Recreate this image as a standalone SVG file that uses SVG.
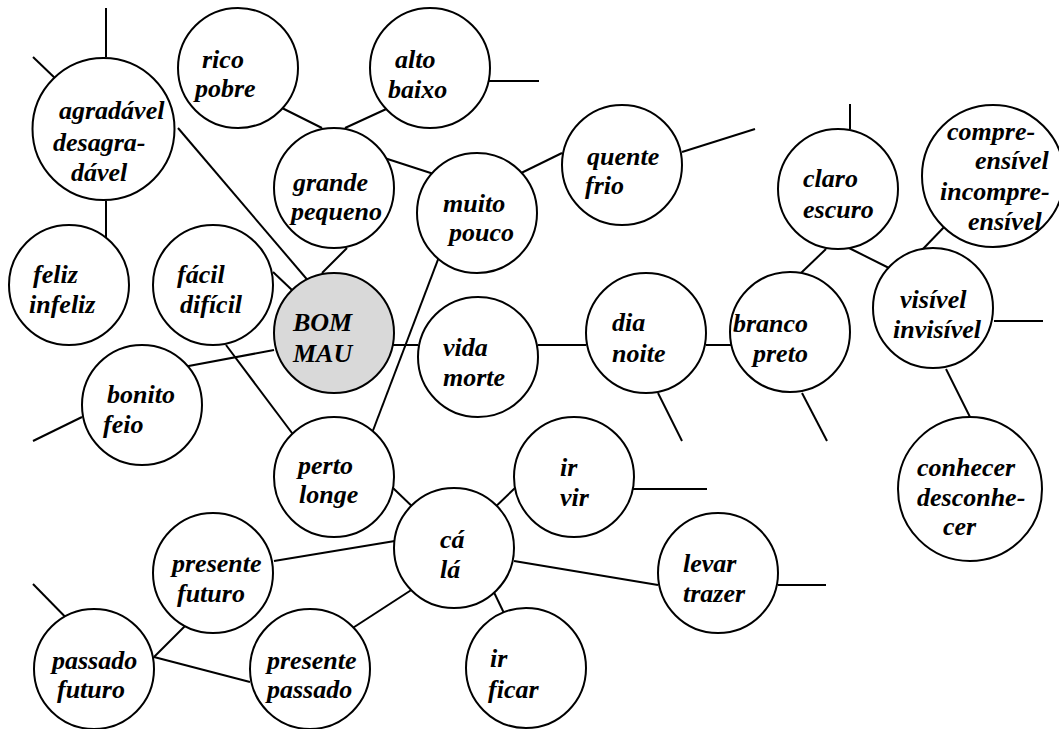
<svg xmlns="http://www.w3.org/2000/svg" width="1059" height="729" viewBox="0 0 1059 729">
<style>
.n{fill:#fff;stroke:#000;stroke-width:2}
.c{fill:#d9d9d9;stroke:#000;stroke-width:2}
.l{stroke:#000;stroke-width:2;fill:none}
text{font-family:'Liberation Serif','Times New Roman','DejaVu Serif',serif;font-weight:700;font-style:italic;font-size:26px;fill:#000}
</style>
<rect width="1059" height="729" fill="#fff"/>
<g id="connectors">
<line class="l" x1="106" y1="8" x2="106" y2="57"/>
<line class="l" x1="33" y1="57" x2="58" y2="81"/>
<line class="l" x1="106" y1="201" x2="106" y2="249"/>
<line class="l" x1="178" y1="128" x2="322" y2="297"/>
<line class="l" x1="274" y1="104" x2="322" y2="128"/>
<line class="l" x1="395" y1="105" x2="345" y2="128"/>
<line class="l" x1="465" y1="81" x2="539" y2="81"/>
<line class="l" x1="369" y1="153" x2="443" y2="177"/>
<line class="l" x1="513" y1="177" x2="562" y2="153"/>
<line class="l" x1="682" y1="152" x2="755" y2="129"/>
<line class="l" x1="850" y1="104" x2="850" y2="129"/>
<line class="l" x1="849" y1="248" x2="899" y2="273"/>
<line class="l" x1="826" y1="249" x2="801" y2="273"/>
<line class="l" x1="947" y1="224" x2="922" y2="250"/>
<line class="l" x1="994" y1="321" x2="1043" y2="321"/>
<line class="l" x1="946" y1="369" x2="970" y2="417"/>
<line class="l" x1="802" y1="393" x2="827" y2="441"/>
<line class="l" x1="706" y1="345" x2="732" y2="345"/>
<line class="l" x1="658" y1="393" x2="682" y2="441"/>
<line class="l" x1="538" y1="345" x2="586" y2="345"/>
<line class="l" x1="393" y1="345" x2="418" y2="345"/>
<line class="l" x1="442" y1="249" x2="369" y2="441"/>
<line class="l" x1="347" y1="248" x2="322" y2="273"/>
<line class="l" x1="273" y1="272" x2="292" y2="290"/>
<line class="l" x1="274" y1="350" x2="178" y2="368"/>
<line class="l" x1="226" y1="345" x2="298" y2="441"/>
<line class="l" x1="82" y1="417" x2="33" y2="441"/>
<line class="l" x1="393" y1="488" x2="419" y2="513"/>
<line class="l" x1="515" y1="488" x2="489" y2="513"/>
<line class="l" x1="633" y1="489" x2="707" y2="489"/>
<line class="l" x1="514" y1="561" x2="658" y2="585"/>
<line class="l" x1="778" y1="585" x2="826" y2="585"/>
<line class="l" x1="490" y1="584" x2="514" y2="634"/>
<line class="l" x1="419" y1="537" x2="274" y2="561"/>
<line class="l" x1="419" y1="585" x2="345" y2="633"/>
<line class="l" x1="154" y1="657" x2="202" y2="609"/>
<line class="l" x1="154" y1="657" x2="250" y2="682"/>
<line class="l" x1="33" y1="584" x2="82" y2="634"/>
</g>
<g id="agradavel"><circle class="n" cx="103.5" cy="129" r="71"/><text x="59" y="119">agradável</text><text x="53" y="151">desagra-</text><text x="71" y="181">dável</text></g>
<g id="rico"><circle class="n" cx="238" cy="68" r="60"/><text x="202" y="68">rico</text><text x="195" y="97">pobre</text></g>
<g id="alto"><circle class="n" cx="430" cy="68" r="60"/><text x="395" y="68">alto</text><text x="388" y="98">baixo</text></g>
<g id="grande"><circle class="n" cx="334" cy="188" r="60"/><text x="293" y="191">grande</text><text x="291" y="220">pequeno</text></g>
<g id="muito"><circle class="n" cx="477" cy="213" r="60"/><text x="443" y="212">muito</text><text x="449" y="241">pouco</text></g>
<g id="quente"><circle class="n" cx="622" cy="165" r="60"/><text x="587" y="165">quente</text><text x="585" y="194">frio</text></g>
<g id="claro"><circle class="n" cx="838" cy="189" r="60"/><text x="803" y="187">claro</text><text x="803" y="218">escuro</text></g>
<g id="compreensivel"><circle class="n" cx="993" cy="176" r="71"/><text x="947" y="140">compre-</text><text x="975" y="169">ensível</text><text x="940" y="200">incompre-</text><text x="968" y="230">ensível</text></g>
<g id="visivel"><circle class="n" cx="933" cy="308" r="60"/><text x="900" y="308">visível</text><text x="893" y="338">invisível</text></g>
<g id="branco"><circle class="n" cx="790" cy="332" r="60"/><text x="733" y="332">branco</text><text x="753" y="362">preto</text></g>
<g id="conhecer"><circle class="n" cx="970" cy="489" r="72"/><text x="917" y="476">conhecer</text><text x="917" y="506">desconhe-</text><text x="943" y="535">cer</text></g>
<g id="dia"><circle class="n" cx="646" cy="333" r="60"/><text x="612" y="331">dia</text><text x="612" y="362">noite</text></g>
<g id="vida"><circle class="n" cx="478" cy="357" r="60"/><text x="443" y="356">vida</text><text x="443" y="386">morte</text></g>
<g id="bom"><circle class="c" cx="334" cy="333" r="60"/><text x="293" y="331">BOM</text><text x="293" y="362">MAU</text></g>
<g id="facil"><circle class="n" cx="213" cy="285" r="60"/><text x="177" y="283">fácil</text><text x="180" y="313">difícil</text></g>
<g id="feliz"><circle class="n" cx="69" cy="285" r="60"/><text x="33" y="283">feliz</text><text x="29" y="313">infeliz</text></g>
<g id="bonito"><circle class="n" cx="142" cy="405" r="60"/><text x="107" y="403">bonito</text><text x="103" y="433">feio</text></g>
<g id="perto"><circle class="n" cx="334" cy="477" r="60"/><text x="298" y="474">perto</text><text x="299" y="503">longe</text></g>
<g id="ca"><circle class="n" cx="454" cy="548" r="60"/><text x="440" y="548">cá</text><text x="440" y="578">lá</text></g>
<g id="irvir"><circle class="n" cx="574" cy="477" r="60"/><text x="560" y="476">ir</text><text x="560" y="506">vir</text></g>
<g id="levar"><circle class="n" cx="718" cy="573" r="60"/><text x="683" y="572">levar</text><text x="683" y="602">trazer</text></g>
<g id="irficar"><circle class="n" cx="526" cy="668" r="60"/><text x="490" y="667">ir</text><text x="488" y="698">ficar</text></g>
<g id="presentefuturo"><circle class="n" cx="213" cy="573" r="60"/><text x="172" y="572">presente</text><text x="177" y="602">futuro</text></g>
<g id="passadofuturo"><circle class="n" cx="94" cy="669" r="60"/><text x="52" y="669">passado</text><text x="57" y="698">futuro</text></g>
<g id="presentepassado"><circle class="n" cx="310" cy="669" r="60"/><text x="267" y="669">presente</text><text x="267" y="698">passado</text></g>
</svg>
